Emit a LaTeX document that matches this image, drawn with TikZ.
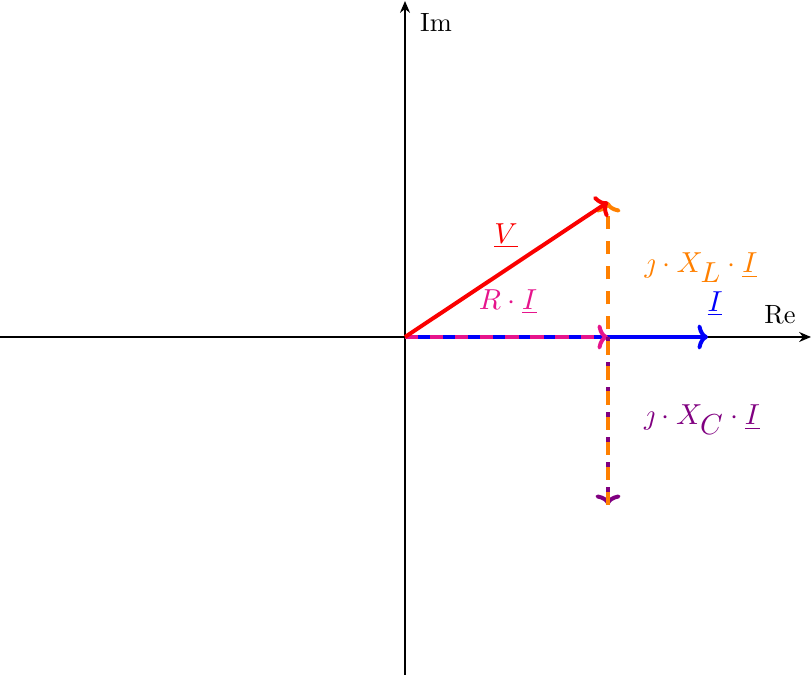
\documentclass[tikz,border=0pt]{standalone}
\usetikzlibrary{arrows.meta}
\definecolor{myred}{RGB}{250,0,0}
\definecolor{myblue}{RGB}{0,0,250}
\definecolor{mymag}{RGB}{230,20,140}
\definecolor{myorange}{RGB}{255,128,0}
\definecolor{myviolet}{RGB}{128,0,128}
\tikzset{
  axis/.style={line width=0.55pt,-{Stealth[length=4.5pt,width=3.8pt]}},
  vec/.style={line width=1.5pt,-{To[length=4pt,width=9.5pt]}},
  dvec/.style={vec,dash pattern=on 5pt off 4.5pt},
  lab/.style={font=\fontsize{11}{13}\selectfont,inner sep=1pt},
  axlab/.style={font=\normalsize,inner sep=1pt}
}
\begin{document}
\begin{tikzpicture}[x=0.3788pt,y=-0.3788pt]
\useasboundingbox (0,0) rectangle (812,675);
\coordinate (O) at (405,337);
\coordinate (xl) at (0,337);
\coordinate (xr) at (811,337);
\coordinate (yb) at (405,675);
\coordinate (yt) at (405,1);
\coordinate (Iend) at (708,337);
\coordinate (RI) at (608,337);
\coordinate (XC) at (608,505);
\coordinate (Vend) at (608,202);
\draw[axis] (xl) -- (xr);
\draw[axis] (yb) -- (yt);
\node[axlab] (im) at (436,22) {Im};
\node[axlab] (re) at (780,315) {Re};
\draw[vec,myblue] (O) -- (Iend);
\draw[dvec,mymag] (O) -- (RI);
\draw[dvec,myviolet] (RI) -- (XC);
\draw[dvec,myorange] (XC) -- (Vend);
\draw[vec,myred] (O) -- (Vend);
\node[lab,myred] (lv) at (506,236) {$\underline{V}$};
\node[lab,mymag] (lri) at (508,302) {$R\cdot\underline{I}$};
\node[lab,myblue] (li) at (715,304) {$\underline{I}$};
\node[lab,myorange] (lxl) at (701,268) {$\jmath\cdot X_{\textstyle L}\cdot\underline{I}$};
\node[lab,myviolet] (lxc) at (702,420) {$\jmath\cdot X_{\textstyle C}\cdot\underline{I}$};
\end{tikzpicture}
\end{document}
